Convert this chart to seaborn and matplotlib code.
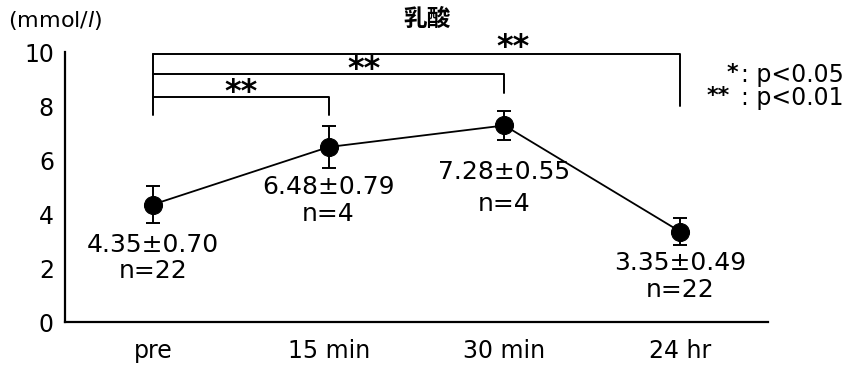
import numpy as np
import pandas as pd
import matplotlib
matplotlib.use("Agg")
import matplotlib.pyplot as plt
import seaborn as sns

# ---- data ----
categories = ["pre", "15 min", "30 min", "24 hr"]
means = [4.35, 6.48, 7.28, 3.35]
sds = [0.70, 0.79, 0.55, 0.49]
ns = [22, 4, 4, 22]
title = "乳酸"
unit_label = r"(mmol/$\mathit{l}$)"
yticks = [0, 2, 4, 6, 8, 10]
# significance comparisons: (from index, to index, label)
comparisons = [(0, 1, "**"), (0, 2, "**"), (0, 3, "**")]
legend_stars = ["*", "**"]
legend_texts = [": p<0.05", ": p<0.01"]

sns.set_theme(style="white")
plt.rcParams["font.family"] = ["DejaVu Sans", "Noto Sans CJK JP"]
plt.rcParams["mathtext.fontset"] = "dejavusans"
plt.rcParams["text.color"] = "black"
plt.rcParams["axes.labelcolor"] = "black"
plt.rcParams["xtick.color"] = "black"
plt.rcParams["ytick.color"] = "black"

W, H = 858, 365
df = pd.DataFrame({"x": np.arange(len(categories)), "mean": means, "sd": sds})

fig = plt.figure(figsize=(W / 100, H / 100), dpi=100)
ax = fig.add_axes([65 / W, 1 - 322 / H, (768 - 65) / W, (322 - 52) / H])

sns.lineplot(data=df, x="x", y="mean", ax=ax, color="black", linewidth=1.3,
             marker="o", markersize=13, markeredgecolor="black",
             markerfacecolor="black", zorder=3)
ax.errorbar(df["x"], df["mean"], yerr=df["sd"], fmt="none", ecolor="black",
            elinewidth=1.4, capsize=5, capthick=1.4, zorder=2)

ax.set_xlim(-0.5, 3.5)
ax.set_ylim(0, 10)
ax.set_xlabel("")
ax.set_ylabel("")
for s in ["top", "right"]:
    ax.spines[s].set_visible(False)
for s in ["left", "bottom"]:
    ax.spines[s].set_color("black")
    ax.spines[s].set_linewidth(1.6)

ax.set_yticks(yticks)
ax.set_yticklabels([str(v) for v in yticks], fontsize=17)
ax.tick_params(axis="y", direction="in", length=5, width=1.3, pad=8, colors="black")
ax.set_xticks(np.arange(len(categories)))
ax.set_xticklabels(categories, fontsize=17)
ax.tick_params(axis="x", which="major", length=0, pad=12, colors="black")
ax.set_xticks(np.arange(len(categories)) + 0.5, minor=True)
ax.tick_params(axis="x", which="minor", direction="in", length=6, width=1.3, colors="black")

# value labels under each point (baseline offsets in px below the lower error bar)
value_offsets = [29, 26, 39, 25]
n_offsets = [55, 53, 71, 52]
for i, (m, s, n) in enumerate(zip(means, sds, ns)):
    ax.annotate(f"{m:.2f}±{s:.2f}", xy=(i, m - s), xytext=(0, -value_offsets[i]),
                textcoords="offset pixels", ha="center", va="baseline", fontsize=18)
    ax.annotate(f"n={n}", xy=(i, m - s), xytext=(0, -n_offsets[i]),
                textcoords="offset pixels", ha="center", va="baseline", fontsize=18)

# significance brackets
bracket_y = [8.33, 9.19, 9.93]
bracket_drop = [7.67, 8.48, 8.0]
star_y = [8.5, 9.35, 10.15]
star_x = [0.5, 1.2, 2.05]
left_bottom = 7.67
ax.plot([0, 0], [left_bottom, max(bracket_y)], color="black", lw=1.4, clip_on=False)
for k, (a, b, lab) in enumerate(comparisons):
    ax.plot([a, b, b], [bracket_y[k], bracket_y[k], bracket_drop[k]], color="black",
            lw=1.4, clip_on=False)
    ax.text(star_x[k], star_y[k], lab, ha="center", va="center", fontsize=23,
            fontweight="bold", clip_on=False)

# title and unit
fig.text(427 / W, 1 - 19 / H, title, ha="center", va="center", fontsize=17,
         fontweight="bold", family=["Noto Sans CJK JP", "DejaVu Sans"])
fig.text(8 / W, 1 - 20 / H, unit_label, ha="left", va="center", fontsize=16)

# legend text
star_right = [738, 730]
baselines = [82, 105]
for j in range(len(legend_texts)):
    fig.text(star_right[j] / W, 1 - (baselines[j] - 3) / H, legend_stars[j], ha="right",
             va="baseline", fontsize=16, fontweight="bold")
    fig.text(741 / W, 1 - baselines[j] / H, legend_texts[j], ha="left",
             va="baseline", fontsize=17)

fig.savefig("out.png", dpi=100)
